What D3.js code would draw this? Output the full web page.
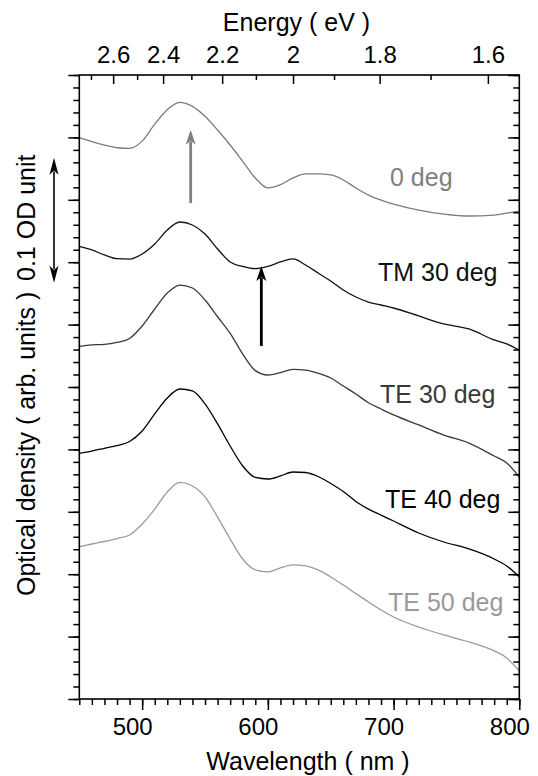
<!DOCTYPE html>
<html>
<head>
<meta charset="utf-8">
<script src="https://cdn.jsdelivr.net/npm/d3@7"></script>
<style>
  html, body { margin: 0; padding: 0; background: #fff; }
  svg { display: block; }
  text { font-family: "Liberation Sans", Arial, Helvetica, sans-serif; }
</style>
</head>
<body>
<svg id="chart" width="538" height="776"></svg>
<script>
// ---------- DATA ----------
const wavelength = [450,460,470,480,490,500,510,520,530,540,550,560,570,580,590,600,610,620,630,640,650,660,670,680,690,700,720,740,760,780,790,800];

// optical density in arb. units (1 unit = 0.01 OD)
const od0deg = [44.99,44.67,44.39,44.17,44.12,44.70,46.07,47.22,47.80,47.49,46.69,45.59,44.39,43.08,41.75,40.95,41.21,41.75,42.07,42.07,41.99,41.59,40.95,40.38,39.98,39.66,39.18,38.86,38.70,38.78,38.94,39.10];
const odTM30 = [36.27,35.98,35.58,35.28,35.25,35.66,36.46,37.58,38.22,37.98,37.26,36.06,35.02,34.66,34.48,34.66,35.02,35.26,34.78,34.13,33.49,32.77,32.21,31.81,31.57,31.33,30.69,30.05,29.65,28.77,28.45,27.96];
const odTE30 = [28.25,28.37,28.41,28.57,28.89,29.89,31.25,32.53,33.17,32.93,31.97,30.63,29.30,27.64,26.31,25.96,26.15,26.42,26.36,26.10,25.72,25.08,24.44,23.74,23.24,22.76,21.96,21.15,20.51,19.47,18.91,17.79];
const odTE40 = [19.69,19.87,20.09,20.31,20.63,21.47,22.84,24.12,24.84,24.68,23.64,22.04,20.27,18.67,17.75,17.63,17.87,18.19,18.15,17.83,17.27,16.63,15.83,15.22,14.74,14.26,13.30,12.58,12.02,11.22,10.66,9.78];
const odTE50 = [12.20,12.42,12.62,12.86,13.14,14.02,15.22,16.59,17.35,17.07,16.19,14.58,12.82,11.22,10.34,10.18,10.50,10.74,10.66,10.34,9.78,9.13,8.45,7.77,7.13,6.57,5.77,5.13,4.57,3.85,3.29,2.24];

const seriesNames = ["0 deg", "TM 30 deg", "TE 30 deg", "TE 40 deg", "TE 50 deg"];

// tick labels
const wavelengthTicks = [500, 600, 700, 800];
const energyTicks = [2.6, 2.4, 2.2, 2.0, 1.8, 1.6];
const energyMinorTicks = [2.7, 2.5, 2.3, 2.1, 1.9, 1.7];

// annotation arrows: [wavelength, from, to] (arb. units)
const grayArrow = [538.6, 39.74, 45.62];
const blackArrow = [594.8, 28.29, 34.70];
const scaleBar = [33.36, 43.36]; // 0.1 OD unit

// ---------- LAYOUT ----------
const L = 79.3, R = 519.3, T = 75, B = 699;
const FONT = '"Liberation Sans", Arial, Helvetica, sans-serif';

const svg = d3.select("#chart");
const x = d3.scaleLinear().domain([450, 800]).range([L, R]);
const y = d3.scaleLinear().domain([0, 50]).range([B, T]);

const styles = [
  { stroke: "#7c7c7c", text: "#808080", lx: 390, ly: 186 },
  { stroke: "#111111", text: "#111111", lx: 378, ly: 281 },
  { stroke: "#3a3a3a", text: "#3a3a3a", lx: 380, ly: 403 },
  { stroke: "#000000", text: "#000000", lx: 385, ly: 508 },
  { stroke: "#9a9a9a", text: "#9a9a9a", lx: 388, ly: 611 }
];
const allSeries = [od0deg, odTM30, odTE30, odTE40, odTE50];

svg.append("defs").append("clipPath").attr("id", "clip")
  .append("rect").attr("x", L).attr("y", T).attr("width", R - L).attr("height", B - T);

// curves
const line = d3.line()
  .x((d, i) => x(wavelength[i]))
  .y(d => y(d))
  .curve(d3.curveMonotoneX);

const g = svg.append("g").attr("clip-path", "url(#clip)");
allSeries.forEach((s, i) => {
  g.append("path").datum(s)
    .attr("d", line)
    .attr("fill", "none")
    .attr("stroke", styles[i].stroke)
    .attr("stroke-width", 1.3)
    .attr("stroke-linejoin", "round");
});

// curve labels
seriesNames.forEach((n, i) => {
  svg.append("text")
    .attr("x", styles[i].lx).attr("y", styles[i].ly)
    .attr("fill", styles[i].text)
    .attr("font-size", 25)
    .text(n);
});

// axes
function styleAxis(sel) {
  sel.selectAll("line").attr("stroke", "#000").attr("stroke-width", 1.5);
  sel.select(".domain").remove();
  sel.selectAll("text").attr("font-family", FONT).attr("fill", "#000");
}

// bottom minor
svg.append("g").attr("transform", `translate(0,${B})`)
  .call(d3.axisBottom(x).tickValues(d3.range(450, 801, 10)).tickSize(6).tickFormat(""))
  .call(styleAxis);
// bottom major with labels
const bMaj = svg.append("g").attr("transform", `translate(0,${B})`)
  .call(d3.axisBottom(x).tickValues(wavelengthTicks).tickSize(11).tickFormat(d3.format("d")))
  .call(styleAxis);
bMaj.selectAll("text").attr("x", -10).attr("y", 36).attr("dy", 0).attr("font-size", 24);

// top energy axis (ticks inward)
const eToL = e => 1240 / e;
svg.append("g").attr("transform", `translate(0,${T})`)
  .call(d3.axisTop(x).tickValues(energyMinorTicks.map(eToL)).tickSizeInner(-5).tickSizeOuter(0).tickFormat(""))
  .call(styleAxis);
const tMaj = svg.append("g").attr("transform", `translate(0,${T})`)
  .call(d3.axisTop(x).tickValues(energyTicks.map(eToL)).tickSizeInner(-9).tickSizeOuter(0)
    .tickPadding(12).tickFormat(l => d3.format("~g")(+(1240 / l).toFixed(1))))
  .call(styleAxis);
tMaj.selectAll("text").attr("font-size", 24);

// left axis (outward)
svg.append("g").attr("transform", `translate(${L},0)`)
  .call(d3.axisLeft(y).tickValues(d3.range(0, 51, 1)).tickSize(6).tickFormat(""))
  .call(styleAxis);
svg.append("g").attr("transform", `translate(${L},0)`)
  .call(d3.axisLeft(y).tickValues(d3.range(0, 51, 5)).tickSize(11).tickFormat(""))
  .call(styleAxis);
// right axis (inward)
svg.append("g").attr("transform", `translate(${R},0)`)
  .call(d3.axisRight(y).tickValues(d3.range(0, 51, 1)).tickSizeInner(-6).tickSizeOuter(0).tickFormat(""))
  .call(styleAxis);
svg.append("g").attr("transform", `translate(${R},0)`)
  .call(d3.axisRight(y).tickValues(d3.range(0, 51, 5)).tickSizeInner(-11).tickSizeOuter(0).tickFormat(""))
  .call(styleAxis);

// frame
svg.append("rect").attr("x", L).attr("y", T).attr("width", R - L).attr("height", B - T)
  .attr("fill", "none").attr("stroke", "#000").attr("stroke-width", 1.6);

// axis titles
svg.append("text").attr("x", 308).attr("y", 770).attr("text-anchor", "middle")
  .attr("font-size", 25).attr("fill", "#000").text("Wavelength ( nm )");
svg.append("text").attr("x", 296.5).attr("y", 31).attr("text-anchor", "middle")
  .attr("font-size", 25).attr("fill", "#000").text("Energy ( eV )");
svg.append("text").attr("transform", "translate(35,596) rotate(-90)")
  .attr("font-size", 25).attr("fill", "#000").text("Optical density ( arb. units )");
svg.append("text").attr("transform", "translate(35,281) rotate(-90)")
  .attr("font-size", 25).attr("fill", "#000").text("0.1 OD unit");

// arrows
function vArrow(px, y0, y1, color, width, headLen, headW, both) {
  const dir = y1 < y0 ? -1 : 1;
  const shaftEnd = y1 - dir * headLen * 0.8;
  const shaftStart = both ? y0 + dir * headLen * 0.8 : y0;
  svg.append("line").attr("x1", px).attr("x2", px).attr("y1", shaftStart).attr("y2", shaftEnd)
    .attr("stroke", color).attr("stroke-width", width);
  const head = (tip, d) => {
    svg.append("path")
      .attr("d", `M${px},${tip} L${px - headW / 2},${tip - d * headLen} L${px},${tip - d * headLen * 0.75} L${px + headW / 2},${tip - d * headLen} Z`)
      .attr("fill", color);
  };
  head(y1, dir);
  if (both) head(y0, -dir);
}
vArrow(x(grayArrow[0]), y(grayArrow[1]), y(grayArrow[2]), "#808080", 2.8, 15, 10, false);
vArrow(x(blackArrow[0]), y(blackArrow[1]), y(blackArrow[2]), "#000", 2.8, 15, 10, false);
vArrow(54, y(scaleBar[0]), y(scaleBar[1]), "#000", 1.6, 17, 9, true);
</script>
</body>
</html>
